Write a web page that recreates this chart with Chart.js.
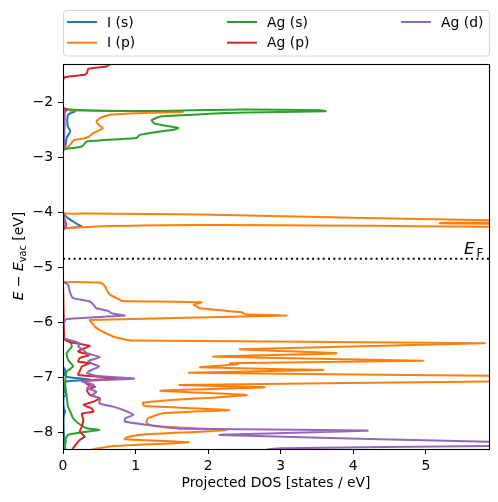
<!DOCTYPE html>
<html>
<head>
<meta charset="utf-8">
<script src="https://cdn.jsdelivr.net/npm/chart.js@4/dist/chart.umd.min.js"></script>
<style>
  body { margin: 0; background: #fff; }
  #wrap { width: 498px; height: 502px; }
</style>
</head>
<body>
<div id="wrap"><canvas id="dosChart" width="498" height="502"></canvas></div>
<script>
// Projected DOS (energy in eV, DOS in states/eV)

const seriesNames = ['I (s)', 'I (p)', 'Ag (s)', 'Ag (p)', 'Ag (d)'];
const seriesColors = ['#1f77b4', '#ff7f0e', '#2ca02c', '#d62728', '#9467bd'];

const iS_energy = [-1.30, -2.10, -2.13, -2.167, -2.20, -2.227, -2.30, -2.378, -2.45, -2.53, -2.60, -2.651, -2.73, -2.80, -2.86,
  -4.00, -4.027, -4.06, -4.105, -4.167, -4.209, -4.258, -4.276, -4.287, -4.31,
  -6.80, -6.86, -6.895, -6.95, -6.99, -7.04, -7.07, -7.10, -7.18, -7.26, -7.30, -7.35, -7.55, -7.62, -7.70, -8.00, -8.10, -8.17, -8.22, -8.30];
const iS_dos = [0, 0, 0.04, 0.165, 0.10, 0.07, 0.06, 0.06, 0.07, 0.10, 0.07, 0.05, 0.04, 0.03, 0,
  0, 0.01, 0.03, 0.07, 0.14, 0.19, 0.26, 0.14, 0.03, 0,
  0, 0.03, 0.03, 0.02, 0.06, 0.37, 0.05, 0.02, 0.03, 0.01, 0.05, 0.01, 0.01, 0.03, 0.01, 0.01, 0.02, 0.04, 0.01, 0.01];

const iP_energy = [-1.28, -1.33, -2.12, -2.15, -2.167, -2.178, -2.196, -2.227, -2.287, -2.349, -2.409, -2.469, -2.51, -2.56, -2.63, -2.66, -2.69, -2.77, -2.85, -2.87,
  -4.00, -4.02, -4.03, -4.045, -4.10, -4.145, -4.17, -4.19, -4.197, -4.205, -4.235, -4.26, -4.30,
  -5.25, -5.265, -5.275, -5.287, -5.349, -5.45, -5.50, -5.573, -5.609, -5.633, -5.682, -5.742, -5.815, -5.851, -5.876, -5.955, -6.015, -6.09, -6.17, -6.27, -6.33,
  -6.378, -6.487, -6.56, -6.622, -6.695, -6.742, -6.76, -6.778, -6.815, -6.864, -6.913, -6.975, -7.02, -7.07, -7.136, -7.178, -7.24, -7.318, -7.367, -7.40, -7.46, -7.52,
  -7.59, -7.65, -7.742, -7.822, -7.882, -7.955, -8.033, -8.087, -8.124, -8.178, -8.245, -8.287, -8.31];
const iP_dos = [0.02, 0, 0, 0.3, 1.65, 1.65, 1.10, 0.65, 0.51, 0.46, 0.49, 0.55, 0.50, 0.42, 0.35, 0.28, 0.15, 0.10, 0.03, 0,
  0, 0.3, 1.2, 2.07, 4.0, 5.85, 7.5, 5.3, 5.19, 5.5, 8.0, 5.9, 0,
  0, 0.2, 0.5, 0.53, 0.58, 0.62, 0.65, 0.76, 0.81, 1.91, 1.80, 1.89, 2.46, 2.51, 3.08, 0.37, 0.40, 0.45, 0.55, 0.72, 0.95,
  5.81, 2.44, 3.77, 2.07, 4.96, 2.30, 2.41, 2.25, 1.89, 3.59, 1.74, 6.2, 9.0, 6.2, 1.61, 2.78, 1.34, 2.53, 2.07, 1.6, 1.1, 1.12,
  2.29, 1.38, 1.17, 1.15, 1.24, 2.25, 1.15, 0.88, 0.85, 1.73, 0.69, 0.49, 0.40];

const agS_energy = [-1.30, -2.115, -2.13, -2.145, -2.165, -2.18, -2.196, -2.227, -2.258, -2.33, -2.391, -2.469, -2.50, -2.53, -2.59, -2.651, -2.713, -2.804, -2.851, -2.87,
  -6.30, -6.33, -6.349, -6.44, -6.56, -6.68, -6.80, -6.895, -7.105, -7.349, -7.531, -7.62, -7.742, -7.833, -7.924, -7.955, -8.004, -8.045, -8.136, -8.30];
const agS_dos = [0, 0, 2.5, 3.55, 3.62, 2.8, 2.25, 1.79, 1.34, 1.22, 1.27, 1.59, 1.52, 1.34, 1.06, 1.01, 0.33, 0.26, 0.03, 0,
  0, 0.08, 0.10, 0.12, 0.05, 0.07, 0.14, 0.05, 0.03, 0.05, 0.07, 0.10, 0.14, 0.21, 0.33, 0.50, 0.23, 0.07, 0.03, 0.03];

const agP_energy = [-1.28, -1.318, -1.349, -1.391, -1.469, -1.50, -1.542, -1.60, -2.10, -2.13, -2.20, -2.80, -2.87, -4.02, -4.20, -4.28, -4.31, -5.30, -5.90, -6.30,
  -6.36, -6.39, -6.427, -6.487, -6.53, -6.59, -6.65, -6.71, -6.74, -6.80, -6.89, -6.955, -7.015, -7.06, -7.136, -7.167, -7.227, -7.318, -7.378, -7.44, -7.50,
  -7.56, -7.62, -7.66, -7.77, -7.89, -7.985, -8.076, -8.136, -8.196, -8.30];
const agP_dos = [0.70, 0.64, 0.60, 0.35, 0.33, 0.30, 0.03, 0, 0, 0.05, 0.02, 0.01, 0, 0, 0.04, 0.03, 0, 0, 0.01, 0.02,
  0.10, 0.23, 0.37, 0.26, 0.21, 0.37, 0.23, 0.21, 0.37, 0.26, 0.23, 0.21, 0.785, 0.28, 0.35, 0.44, 0.33, 0.37, 0.51, 0.42, 0.28,
  0.39, 0.42, 0.26, 0.28, 0.26, 0.23, 0.30, 0.23, 0.19, 0.13];

const agD_energy = [-1.30, -2.10, -2.15, -2.50, -2.85, -2.87, -4.02, -4.20, -4.29, -4.31,
  -5.25, -5.269, -5.318, -5.469, -5.56, -5.62, -5.68, -5.742, -5.79, -5.833, -5.876, -5.936, -6.015, -6.27, -6.30,
  -6.378, -6.44, -6.50, -6.56, -6.63, -6.70, -6.75, -6.80, -6.86, -6.92, -6.97, -7.02, -7.07, -7.13, -7.19, -7.26, -7.32, -7.39, -7.47, -7.53,
  -7.60, -7.68, -7.74, -7.80, -7.86, -7.93, -7.966, -8.045, -8.167, -8.205, -8.245, -8.287, -8.31];
const agD_dos = [0, 0, 0.02, 0.02, 0.01, 0, 0, 0.03, 0.02, 0,
  0, 0.01, 0.07, 0.10, 0.14, 0.37, 0.42, 0.46, 0.62, 0.67, 0.85, 0.05, 0.01, 0, 0.04,
  0.23, 0.21, 0.28, 0.33, 0.51, 0.35, 0.40, 0.50, 0.40, 0.33, 0.45, 0.98, 0.26, 0.42, 0.33, 0.46, 0.40, 0.51, 0.50, 0.69,
  0.85, 0.97, 0.86, 0.85, 1.15, 1.6, 4.2, 2.16, 5.9, 8.0, 5.9, 3.0, 2.8];

const fermiEnergy = -4.845;
const xTicks = [0, 1, 2, 3, 4, 5];
const yTicks = [-8, -7, -6, -5, -4, -3, -2];
const xMax = 5.87;
const yMin = -8.30, yMax = -1.305;

const FONT = '"DejaVu Sans", sans-serif';

function toPoints(energy, dos) {
    return energy.map((e, i) => ({ x: dos[i], y: e }));
}

function minus(v) {
    return v < 0 ? '\u2212' + Math.abs(v) : String(v);
}

// draw a row of text pieces with different fonts, centred on x
function drawRuns(ctx, runs, x, y) {
    let total = 0;
    runs.forEach(r => { ctx.font = r.font; total += ctx.measureText(r.t).width; });
    let cx = x - total / 2;
    runs.forEach(r => {
        ctx.font = r.font;
        ctx.fillText(r.t, cx, y + (r.dy || 0));
        cx += ctx.measureText(r.t).width;
    });
}

const decorPlugin = {
    id: 'decor',
    afterDatasetsDraw(chart) {
        const { ctx, chartArea: a } = chart;
        ctx.save();
        // frame
        ctx.strokeStyle = '#000';
        ctx.lineWidth = 1.1;
        ctx.strokeRect(a.left + 0.5, a.top + 0.5, a.right - a.left, a.bottom - a.top);

        ctx.fillStyle = '#000';
        ctx.textAlign = 'left';
        ctx.textBaseline = 'alphabetic';

        // E_F label
        ctx.font = 'italic 16.7px ' + FONT;
        ctx.fillText('E', 464, 254);
        ctx.font = '11.7px ' + FONT;
        ctx.fillText('F', 476.5, 256.5);

        // x axis title
        ctx.font = '13.9px ' + FONT;
        ctx.textAlign = 'center';
        ctx.fillText('Projected DOS [states / eV]', (a.left + a.right) / 2, 487);

        // y axis title
        ctx.save();
        ctx.translate(23, 256);
        ctx.rotate(-Math.PI / 2);
        ctx.textAlign = 'left';
        drawRuns(ctx, [
            { t: 'E', font: 'italic 13.9px ' + FONT },
            { t: ' \u2212 ', font: '13.9px ' + FONT },
            { t: 'E', font: 'italic 13.9px ' + FONT },
            { t: 'vac', font: '9.7px ' + FONT, dy: 2.5 },
            { t: ' [eV]', font: '13.9px ' + FONT }
        ], 0, 0);
        ctx.restore();

        // legend
        ctx.fillStyle = 'rgba(255,255,255,0.8)';
        ctx.strokeStyle = '#d6d6d6';
        ctx.lineWidth = 1;
        ctx.beginPath();
        ctx.roundRect(63.5, 10.5, 426, 45.5, 3);
        ctx.fill();
        ctx.stroke();

        const cols = [[67, 107], [227, 267], [401, 441]];
        const rows = [22, 42.7];
        ctx.textAlign = 'left';
        ctx.textBaseline = 'middle';
        ctx.font = '13.9px ' + FONT;
        seriesNames.forEach((name, i) => {
            const c = cols[Math.floor(i / 2)];
            const y = rows[i % 2];
            ctx.strokeStyle = seriesColors[i];
            ctx.lineWidth = 2;
            ctx.beginPath();
            ctx.moveTo(c[0], y);
            ctx.lineTo(c[0] + 30, y);
            ctx.stroke();
            ctx.fillStyle = '#000';
            ctx.fillText(name, c[1], y + 1);
        });
        ctx.restore();
    }
};

const allEnergy = [iS_energy, iP_energy, agS_energy, agP_energy, agD_energy];
const allDos = [iS_dos, iP_dos, agS_dos, agP_dos, agD_dos];

const datasets = seriesNames.map((name, i) => ({
    label: name,
    data: toPoints(allEnergy[i], allDos[i]),
    borderColor: seriesColors[i],
    borderWidth: 2,
    showLine: true,
    pointRadius: 0,
    tension: 0.15,
    fill: false,
    clip: 0,
    order: 10 - i
}));

datasets.push({
    label: 'E_F',
    data: [{ x: 0, y: fermiEnergy }, { x: xMax, y: fermiEnergy }],
    borderColor: '#000',
    borderWidth: 2,
    borderDash: [2, 3.3],
    showLine: true,
    pointRadius: 0,
    clip: 0,
    order: 0
});

new Chart(document.getElementById('dosChart'), {
    type: 'scatter',
    data: { datasets },
    options: {
        responsive: false,
        animation: false,
        devicePixelRatio: 1,
        layout: { padding: { top: 64, right: 9, left: 0, bottom: 0 } },
        plugins: {
            legend: { display: false },
            tooltip: { enabled: false }
        },
        scales: {
            x: {
                type: 'linear',
                min: 0,
                max: xMax,
                afterBuildTicks: s => { s.ticks = xTicks.map(v => ({ value: v })); },
                afterFit: s => { s.height = 53; },
                ticks: {
                    color: '#000',
                    font: { family: FONT, size: 13.9 },
                    padding: 4,
                    autoSkip: false,
                    maxRotation: 0,
                    callback: v => minus(v)
                },
                grid: { display: true, drawOnChartArea: false, drawTicks: true, tickLength: 5, color: '#000' },
                border: { display: true, color: '#000', width: 1 }
            },
            y: {
                type: 'linear',
                min: yMin,
                max: yMax,
                afterBuildTicks: s => { s.ticks = yTicks.map(v => ({ value: v })); },
                afterFit: s => { s.width = 63; },
                ticks: {
                    color: '#000',
                    font: { family: FONT, size: 13.9 },
                    padding: 5,
                    autoSkip: false,
                    callback: v => minus(v)
                },
                grid: { display: true, drawOnChartArea: false, drawTicks: true, tickLength: 5, color: '#000' },
                border: { display: true, color: '#000', width: 1 }
            }
        }
    },
    plugins: [decorPlugin]
});
</script>
</body>
</html>
